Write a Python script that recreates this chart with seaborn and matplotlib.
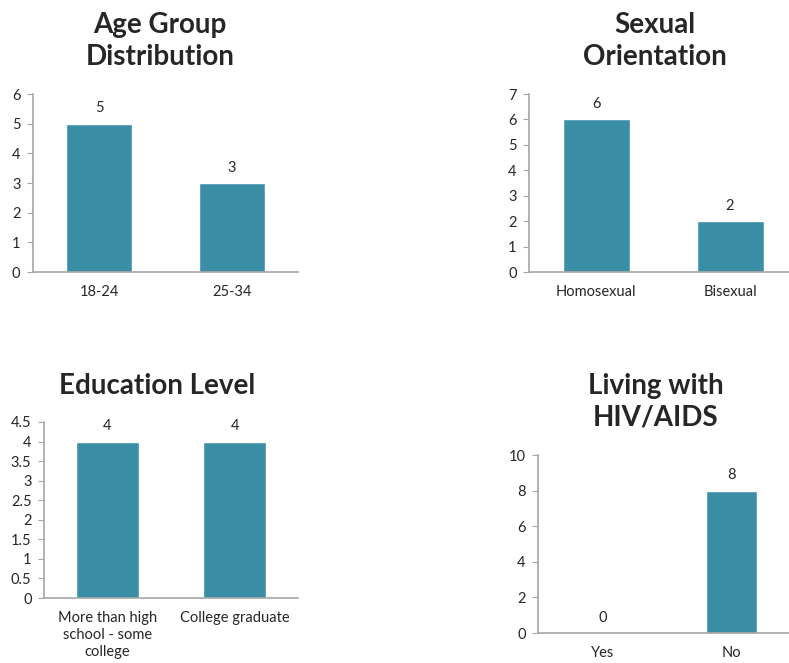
import matplotlib.pyplot as plt
import seaborn as sns

# chart data
age_groups = ["18-24", "25-34"]
age_counts = [5, 3]

orientation = ["Homosexual", "Bisexual"]
orientation_counts = [6, 2]

education = ["More than high\nschool - some\ncollege", "College graduate"]
education_counts = [4, 4]

hiv_status = ["Yes", "No"]
hiv_counts = [0, 8]

teal = "#3A8FA7"
axis_grey = "#A6A6A6"

sns.set_style("white")
plt.rcParams['font.family'] = ['Lato', 'DejaVu Sans']

fig = plt.figure(figsize=(7.89, 6.63), dpi=100)


def draw(rect, cats, vals, ymax, ystep, width, tick_fmt):
    ax = fig.add_axes(rect)
    sns.barplot(x=cats, y=vals, color=teal, width=width, ax=ax, saturation=1)
    ax.set_xlim(-0.5, 1.5)
    ax.set_ylim(0, ymax)
    ticks = [i * ystep for i in range(int(round(ymax / ystep)) + 1)]
    ax.set_yticks(ticks)
    ax.set_yticklabels([tick_fmt(t) for t in ticks])
    ax.set_xticks([-0.5, 0.5, 1.5], minor=True)
    ax.tick_params(axis='x', which='major', length=0, pad=9, labelsize=10.5)
    ax.tick_params(axis='x', which='minor', length=4, color=axis_grey, direction='out')
    ax.tick_params(axis='y', length=4, color=axis_grey, direction='out', left=True,
                   pad=5, labelsize=10.5)
    for lbl in ax.get_xticklabels():
        lbl.set_linespacing(1.3)
    sns.despine(ax=ax)
    for s in ['left', 'bottom']:
        ax.spines[s].set_color(axis_grey)
        ax.spines[s].set_linewidth(1.2)
    ax.bar_label(ax.containers[0], padding=6, fontsize=10.5)
    ax.set_xlabel("")
    ax.set_ylabel("")
    return ax


def whole(t):
    return "%d" % t


def half(t):
    return ("%g" % t)


draw([0.0418, 0.5897, 0.336, 0.2685], age_groups, age_counts, 6, 1, 0.5, whole)
draw([0.6705, 0.5897, 0.3397, 0.2685], orientation, orientation_counts, 7, 1, 0.5, whole)
draw([0.0558, 0.098, 0.322, 0.2655], education, education_counts, 4.5, 0.5, 0.5, half)
draw([0.682, 0.0452, 0.327, 0.2685], hiv_status, hiv_counts, 10, 2, 0.4, whole)

title_kw = dict(ha='center', va='center', fontsize=20, fontweight='bold',
                linespacing=1.25)
fig.text(160 / 789, 1 - 41 / 663, "Age Group\nDistribution", **title_kw)
fig.text(655 / 789, 1 - 41 / 663, "Sexual\nOrientation", **title_kw)
fig.text(157 / 789, 1 - 386 / 663, "Education Level", **title_kw)
fig.text(656 / 789, 1 - 402 / 663, "Living with\nHIV/AIDS", **title_kw)

fig.savefig("out.png", dpi=100)
